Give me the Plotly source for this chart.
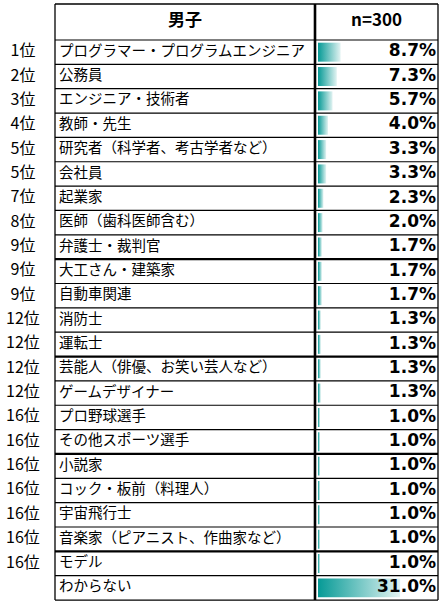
import plotly.graph_objects as go

# データ (男子 n=300)
ranks = ["1位", "2位", "3位", "4位", "5位", "5位", "7位", "8位", "9位", "9位", "9位",
         "12位", "12位", "12位", "12位", "16位", "16位", "16位", "16位", "16位", "16位", "16位", ""]
jobs = ["プログラマー・プログラムエンジニア", "公務員", "エンジニア・技術者", "教師・先生",
        "研究者（科学者、考古学者など）", "会社員", "起業家", "医師（歯科医師含む）",
        "弁護士・裁判官", "大工さん・建築家", "自動車関連", "消防士", "運転士",
        "芸能人（俳優、お笑い芸人など）", "ゲームデザイナー", "プロ野球選手", "その他スポーツ選手",
        "小説家", "コック・板前（料理人）", "宇宙飛行士", "音楽家（ピアニスト、作曲家など）",
        "モデル", "わからない"]
pct = [8.7, 7.3, 5.7, 4.0, 3.3, 3.3, 2.3, 2.0, 1.7, 1.7, 1.7, 1.3, 1.3, 1.3, 1.3,
       1.0, 1.0, 1.0, 1.0, 1.0, 1.0, 1.0, 31.0]
header_left = "男子"
header_right = "n=300"

W, H = 442, 601
ROW_H = 24.35
TOP = 4           # 表の上端 (px)
HEAD_BOTTOM = 40  # ヘッダー下端 (px)
X_LEFT, X_MID, X_RIGHT = 55, 315, 438
BAR_X0 = 318
BAR_BASE = 0.25
PX_PER_PCT = 2.67
JP = "Noto Sans CJK JP"


def row_u(px):
    # ピクセル位置 -> 行座標 (行 i の中心が i)
    return (px - HEAD_BOTTOM) / ROW_H - 0.5


def bar_x(px):
    # ピクセル位置 -> バー列の x 座標
    return BAR_BASE + (px - BAR_X0) / PX_PER_PCT


n = len(jobs)
fig = go.Figure()

# データバー (グラデーション)
for i, v in enumerate(pct):
    h = 0.39
    fig.add_trace(go.Scatter(
        x=[BAR_BASE, v, v, BAR_BASE, BAR_BASE],
        y=[i - h, i - h, i + h, i + h, i - h],
        xaxis="x2", yaxis="y",
        mode="lines", line=dict(width=0),
        fill="toself",
        fillgradient=dict(type="horizontal",
                          colorscale=[[0, "#069a96"], [1, "#e2f3f2"]]),
        hoverinfo="skip", showlegend=False,
    ))

# パーセント (バーの上に重ねる)
fig.add_trace(go.Scatter(
    x=[bar_x(436)] * n, y=list(range(n)), text=[f"<b>{v:.1f}%</b>" for v in pct],
    xaxis="x2", yaxis="y", mode="text", cliponaxis=False,
    textposition="middle left",
    textfont=dict(family="DejaVu Sans", size=17, color="black"),
    hoverinfo="skip", showlegend=False,
))

# 順位
fig.add_trace(go.Scatter(
    x=[23] * n, y=list(range(n)), text=ranks, mode="text",
    textposition="middle center",
    textfont=dict(family=JP, size=16, color="black"),
    hoverinfo="skip", showlegend=False,
))
# 職業名
fig.add_trace(go.Scatter(
    x=[59] * n, y=list(range(n)), text=jobs, mode="text",
    textposition="middle right",
    textfont=dict(family=JP, size=14.5, color="black"),
    hoverinfo="skip", showlegend=False,
))
# ヘッダー
head_u = row_u((TOP + HEAD_BOTTOM) / 2)
fig.add_trace(go.Scatter(
    x=[(X_LEFT + X_MID) / 2, (X_MID + X_RIGHT) / 2], y=[head_u, head_u],
    text=[f"<b>{header_left}</b>", f"<b>{header_right}</b>"], mode="text",
    textposition="middle center", cliponaxis=False,
    textfont=dict(family=JP, size=17, color="black"),
    hoverinfo="skip", showlegend=False,
))

# 罫線
shapes = []
y_top = row_u(TOP)
y_bot = n - 0.5
thick_rows = {9, 13, 17, 21}
shapes.append(dict(type="line", xref="x", yref="y", x0=X_LEFT, x1=X_RIGHT, y0=y_top, y1=y_top,
                   line=dict(color="black", width=1.3)))
for i in range(n + 1):
    shapes.append(dict(type="line", xref="x", yref="y", x0=X_LEFT, x1=X_RIGHT,
                       y0=i - 0.5, y1=i - 0.5,
                       line=dict(color="black", width=2.2 if i in thick_rows else 1.2)))
for xx, lw in [(X_LEFT, 1.3), (X_MID, 2.6), (X_RIGHT, 1.3)]:
    shapes.append(dict(type="line", xref="x", yref="y", x0=xx, x1=xx, y0=y_top, y1=y_bot,
                       line=dict(color="black", width=lw)))

fig.update_layout(
    width=W, height=H,
    margin=dict(l=0, r=0, t=0, b=0),
    paper_bgcolor="white", plot_bgcolor="rgba(0,0,0,0)",
    xaxis=dict(range=[0, W], domain=[0, 1], visible=False, fixedrange=True),
    xaxis2=dict(range=[BAR_BASE, bar_x(X_RIGHT)],
                domain=[BAR_X0 / W, X_RIGHT / W], anchor="y",
                visible=False, fixedrange=True),
    yaxis=dict(range=[row_u(H), row_u(0)], visible=False, fixedrange=True),
    shapes=shapes,
    showlegend=False,
)

fig.write_html("out.html", config={"displayModeBar": False},
               post_script="document.body.style.margin='0';")
